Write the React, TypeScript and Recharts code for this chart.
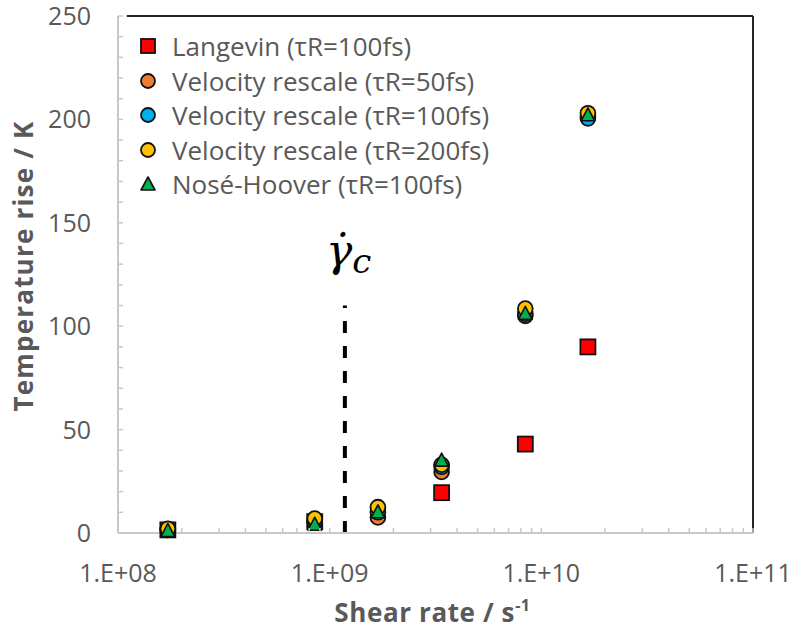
import React from 'react';
import { ScatterChart, Scatter, XAxis, YAxis, ReferenceLine } from 'recharts';

// Shear rates (s^-1) of the six simulated groups
const shearRates = [1.72e8, 8.5e8, 1.69e9, 3.38e9, 8.4e9, 1.66e10];
// Temperature rise (K) for each thermostat
const langevin = [1.5, 5.5, null, 19.5, 43, 90];
const vr50 = [1.5, 5.5, 7.5, 29.5, 105, 201.5];
const vr100 = [1.5, 5.5, 10, 32, 106, 200.5];
const vr200 = [2, 7, 12.5, 33, 108.5, 203];
const noseHoover = [1, 4, 10, 35, 106, 202];

const seriesNames = [
  'Langevin (τR=100fs)',
  'Velocity rescale (τR=50fs)',
  'Velocity rescale (τR=100fs)',
  'Velocity rescale (τR=200fs)',
  'Nosé-Hoover (τR=100fs)',
];

const criticalRate = 1.18e9;
const criticalTop = 110;

const xTicks = [
  1e8, 2e8, 3e8, 4e8, 5e8, 6e8, 7e8, 8e8, 9e8,
  1e9, 2e9, 3e9, 4e9, 5e9, 6e9, 7e9, 8e9, 9e9,
  1e10, 2e10, 3e10, 4e10, 5e10, 6e10, 7e10, 8e10, 9e10,
  1e11,
];
const xMajor = [1e8, 1e9, 1e10, 1e11];
const xMajorLabels = ['1.E+08', '1.E+09', '1.E+10', '1.E+11'];

const yTicks = [0, 10, 20, 30, 40, 50, 60, 70, 80, 90, 100, 110, 120, 130, 140, 150, 160, 170, 180, 190, 200, 210, 220, 230, 240, 250];
const yMajor = [0, 50, 100, 150, 200, 250];

const FONT = '"Open Sans", "Noto Sans", sans-serif';
const GRAY_TEXT = '#595959';
const AXIS_GRAY = '#C8C8C8';
const OUTLINE = '#111';

const toPoints = (vals: (number | null)[]) =>
  shearRates
    .map((x, i) => ({ x, y: vals[i] }))
    .filter((p) => p.y !== null && p.y !== undefined);

const SquareShape = (p: any) => (
  <rect x={p.cx - 7.5} y={p.cy - 7.5} width={15} height={15} fill="#FF0000" stroke={OUTLINE} strokeWidth={1.8} />
);
const makeCircle = (fill: string) => (p: any) => (
  <circle cx={p.cx} cy={p.cy} r={7.4} fill={fill} stroke={OUTLINE} strokeWidth={1.8} />
);
const TriangleShape = (p: any) => (
  <polygon
    points={`${p.cx},${p.cy - 7.5} ${p.cx + 6.8},${p.cy + 5.5} ${p.cx - 6.8},${p.cy + 5.5}`}
    fill="#00B050"
    stroke={OUTLINE}
    strokeWidth={1.6}
    strokeLinejoin="round"
  />
);

const XTick = (props: any) => {
  const { x, y, payload } = props;
  const idx = xMajor.indexOf(payload.value);
  return (
    <g>
      <line x1={x} x2={x} y1={y} y2={y - 5} stroke={AXIS_GRAY} strokeWidth={1.5} />
      {idx >= 0 && (
        <text x={x} y={y + 49} textAnchor="middle" fill={GRAY_TEXT} fontSize={25} fontFamily={FONT}>
          {xMajorLabels[idx]}
        </text>
      )}
    </g>
  );
};

const YTick = (props: any) => {
  const { x, y, payload } = props;
  const major = yMajor.includes(payload.value);
  return (
    <g>
      <line x1={x} x2={x + 5} y1={y} y2={y} stroke={AXIS_GRAY} strokeWidth={1.5} />
      {major && (
        <text x={x - 27} y={y + 9} textAnchor="end" fill={GRAY_TEXT} fontSize={25} fontFamily={FONT}>
          {payload.value}
        </text>
      )}
    </g>
  );
};

const legendMarkers = [
  <rect key="s" x={1} y={1} width={14} height={14} fill="#FF0000" stroke={OUTLINE} strokeWidth={1.8} />,
  <circle key="c1" cx={8} cy={8} r={7} fill="#ED7D31" stroke={OUTLINE} strokeWidth={1.8} />,
  <circle key="c2" cx={8} cy={8} r={7} fill="#00B0F0" stroke={OUTLINE} strokeWidth={1.8} />,
  <circle key="c3" cx={8} cy={8} r={7} fill="#FFC000" stroke={OUTLINE} strokeWidth={1.8} />,
  <polygon key="t" points="8,1 15,14 1,14" fill="#00B050" stroke={OUTLINE} strokeWidth={1.6} strokeLinejoin="round" />,
];

const LegendBox = () => (
  <div
    style={{
      position: 'absolute',
      left: 140,
      top: 29,
      fontFamily: FONT,
      fontSize: 26,
      color: GRAY_TEXT,
      lineHeight: 1,
    }}
  >
    {seriesNames.map((name, i) => (
      <div key={name} style={{ display: 'flex', alignItems: 'center', height: 34.5, whiteSpace: 'nowrap' }}>
        <svg width={16} height={16} style={{ marginRight: 16, overflow: 'visible', flex: 'none' }}>
          {legendMarkers[i]}
        </svg>
        <span>{name}</span>
      </div>
    ))}
  </div>
);

export default function App() {
  return (
    <div style={{ position: 'absolute', left: 0, top: 0, width: 794, height: 630, background: '#fff' }}>
      <ScatterChart width={794} height={630} margin={{ top: 16, right: 41, bottom: 37, left: 38 }}>
        <XAxis
          type="number"
          dataKey="x"
          scale="log"
          domain={[1e8, 1e11]}
          allowDataOverflow
          ticks={xTicks}
          interval={0}
          tick={<XTick />}
          tickSize={0}
          tickMargin={0}
          tickLine={false}
          height={60}
          axisLine={{ stroke: AXIS_GRAY, strokeWidth: 2 }}
          label={{
            content: (p: any) => {
              const vb = p.viewBox;
              return (
                <text x={vb.x + vb.width / 2 - 3} y={622} textAnchor="middle" fill={GRAY_TEXT} fontSize={26} fontWeight="bold" fontFamily={FONT} letterSpacing={0.6}>
                  Shear rate / s
                  <tspan dy={-11} fontSize={16}>-1</tspan>
                </text>
              );
            },
          }}
        />
        <YAxis
          type="number"
          dataKey="y"
          domain={[0, 250]}
          ticks={yTicks}
          interval={0}
          tick={<YTick />}
          tickSize={0}
          tickMargin={0}
          tickLine={false}
          width={80}
          axisLine={{ stroke: AXIS_GRAY, strokeWidth: 2 }}
          label={{
            content: () => (
              <text
                x={0}
                y={0}
                transform="translate(33, 266) rotate(-90)"
                textAnchor="middle"
                fill={GRAY_TEXT}
                fontSize={26}
                fontWeight="bold"
                fontFamily={FONT}
                letterSpacing={1.2}
              >
                Temperature rise / K
              </text>
            ),
          }}
        />
        <ReferenceLine
          segment={[{ x: 1.1e8, y: 250 }, { x: 1e11, y: 250 }]}
          stroke="#262626"
          strokeWidth={2}
        />
        <ReferenceLine
          segment={[{ x: 1e11, y: 0 }, { x: 1e11, y: 250 }]}
          stroke="#262626"
          strokeWidth={2}
        />
        <ReferenceLine
          segment={[{ x: criticalRate, y: 0 }, { x: criticalRate, y: criticalTop }]}
          stroke="#000"
          strokeWidth={4}
          strokeDasharray="12 13"
          label={{
            content: (p: any) => {
              const vb = p.viewBox || {};
              const x = vb.x ?? 345;
              const y = vb.y ?? 305;
              return (
                <text x={x - 19} y={y - 40} fill="#000" fontFamily='"DejaVu Serif", "Liberation Serif", serif' fontStyle="italic">
                  <tspan fontSize={44}>{'γ\u0307'}</tspan>
                  <tspan fontSize={34} dy={7}>c</tspan>
                </text>
              );
            },
          }}
        />
        <Scatter name={seriesNames[0]} data={toPoints(langevin)} shape={SquareShape} isAnimationActive={false} />
        <Scatter name={seriesNames[1]} data={toPoints(vr50)} shape={makeCircle('#ED7D31')} isAnimationActive={false} />
        <Scatter name={seriesNames[2]} data={toPoints(vr100)} shape={makeCircle('#00B0F0')} isAnimationActive={false} />
        <Scatter name={seriesNames[3]} data={toPoints(vr200)} shape={makeCircle('#FFC000')} isAnimationActive={false} />
        <Scatter name={seriesNames[4]} data={toPoints(noseHoover)} shape={TriangleShape} isAnimationActive={false} />
      </ScatterChart>
      <LegendBox />
    </div>
  );
}
